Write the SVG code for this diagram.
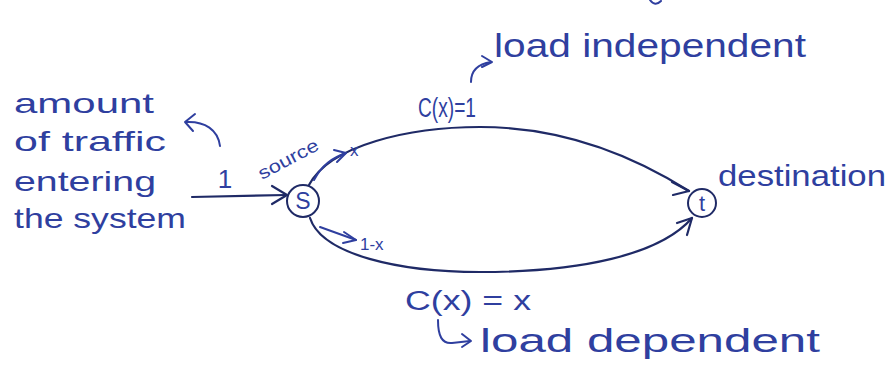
<svg xmlns="http://www.w3.org/2000/svg" width="892" height="365" viewBox="0 0 892 365">
<defs>
<style>
.t{font-family:"Liberation Sans","DejaVu Sans",sans-serif;fill:#2f3f9f}
.ink{fill:none;stroke:#2f3f9f;stroke-width:2;stroke-linecap:round;stroke-linejoin:round}
.edge{fill:none;stroke:#1f2a66;stroke-width:2.2;stroke-linecap:round;stroke-linejoin:round}
.node{fill:#ffffff;stroke:#1f2a66;stroke-width:2}
</style>
</defs>
<rect width="892" height="365" fill="#ffffff"/>
<!-- fragment at top edge -->
<path class="ink" d="M650,0 Q655,7 661,1"/>

<g id="connectors">
<!-- input arrow -->
<path class="edge" d="M192,197 L286,195"/>
<path class="edge" d="M272,186 L287,195 L272,204"/>
<!-- upper path s -> t -->
<path class="edge" d="M309,185 C330,145 410,127 480,127 C570,127 640,160 689,191"/>
<path class="edge" d="M672,182 L689,191 L673,195"/>
<!-- lower path s -> t -->
<path class="edge" d="M310,218 C322,255 400,272 480,272 C580,272 660,255 692,218"/>
<path class="edge" d="M677,223 L692,218 L687,235"/>
<!-- flow arrows -->
<path class="ink" d="M314,180 C322,165 332,158 346,153"/>
<path class="ink" d="M334,150 L346,153 L337,162"/>
<path class="ink" d="M320,227 L356,240"/>
<path class="ink" d="M344,232 L356,240 L343,243"/>
<!-- annotation arrows -->
<path class="ink" d="M220,146 C218,130 205,121 186,122"/>
<path class="ink" d="M195,114 L185,122 L193,131"/>
<path class="ink" d="M471,82 C471,70 478,64 491,62"/>
<path class="ink" d="M482,56 L492,62 L482,67"/>
<path class="ink" d="M438,320 C438,336 442,344 452,343 L470,341"/>
<path class="ink" d="M462,334 L471,341 L462,347"/>
</g>

<g id="node-s">
<circle class="node" cx="303" cy="201" r="16"/>
<text class="t" x="303" y="209" font-size="23" text-anchor="middle">S</text>
</g>
<g id="node-t">
<circle class="node" cx="702" cy="203" r="14"/>
<text class="t" x="702" y="211" font-size="22" text-anchor="middle">t</text>
</g>

<g id="labels">
<text class="t" x="14" y="113" font-size="28" textLength="140" lengthAdjust="spacingAndGlyphs">amount</text>
<text class="t" x="14" y="151" font-size="28" textLength="152" lengthAdjust="spacingAndGlyphs">of traffic</text>
<text class="t" x="14" y="191" font-size="28" textLength="142" lengthAdjust="spacingAndGlyphs">entering</text>
<text class="t" x="14" y="228" font-size="28" textLength="172" lengthAdjust="spacingAndGlyphs">the system</text>
<text class="t" x="225" y="188" font-size="26" text-anchor="middle">1</text>
<text class="t" font-size="18" transform="translate(262,180) rotate(-28)" textLength="66" lengthAdjust="spacingAndGlyphs">source</text>
<text class="t" x="350" y="156" font-size="17">x</text>
<text class="t" x="360" y="250" font-size="17">1-x</text>
<text class="t" x="418" y="117" font-size="27" textLength="58" lengthAdjust="spacingAndGlyphs">C(x)=1</text>
<text class="t" x="494" y="57" font-size="34" textLength="312" lengthAdjust="spacingAndGlyphs">load independent</text>
<text class="t" x="718" y="186" font-size="30" textLength="168" lengthAdjust="spacingAndGlyphs">destination</text>
<text class="t" x="405" y="310" font-size="27" textLength="126" lengthAdjust="spacingAndGlyphs">C(x) = x</text>
<text class="t" x="480" y="352" font-size="34" textLength="340" lengthAdjust="spacingAndGlyphs">load dependent</text>
</g>
</svg>
